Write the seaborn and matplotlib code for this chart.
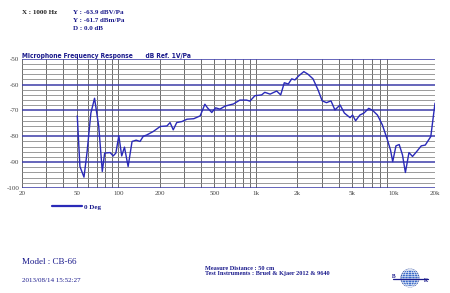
import numpy as np
import pandas as pd
import matplotlib
matplotlib.use("Agg")
import matplotlib.pyplot as plt
import seaborn as sns
from matplotlib.patches import Circle, Ellipse

freq = [50.4, 52.7, 56.4, 59.3, 63.3, 67.3, 72.2, 76.6, 79.7, 87.3, 91.9, 96.1, 101, 106, 111, 118,
        126, 135, 144, 152, 161, 179, 202, 226, 238, 251, 266, 290, 316, 354, 394, 426, 445, 478,
        510, 548, 599, 687, 765, 855, 905, 984, 1101, 1160, 1268, 1416, 1514, 1608, 1720, 1820,
        1920, 2050, 2230, 2390, 2600, 2830, 3030, 3260, 3510, 3750, 4090, 4390, 4830, 5040, 5300,
        5690, 6100, 6600, 7050, 7640, 8290, 8990, 9500, 9860, 10410, 10990, 11610, 12190, 12940,
        13730, 14670, 15900, 17000, 18640, 20000]
level = [-72.1, -91.7, -95.8, -86.4, -71.0, -65.3, -76.2, -93.6, -86.5, -86.3, -87.6, -86.5, -79.8,
         -87.6, -84.2, -91.7, -82.0, -81.5, -82.0, -80.0, -79.5, -78.2, -76.2, -76.0, -74.7, -77.5,
         -74.7, -74.3, -73.4, -73.2, -72.1, -67.6, -69.0, -70.8, -69.0, -69.5, -68.3, -67.5, -66.0,
         -66.0, -66.4, -64.3, -64.0, -63.0, -63.7, -62.5, -64.0, -59.3, -59.8, -57.8, -58.2, -56.6,
         -55.0, -56.0, -57.8, -62.1, -66.3, -67.0, -66.3, -69.8, -67.9, -71.0, -72.8, -71.8, -74.0,
         -71.8, -71.0, -69.2, -70.0, -71.8, -75.6, -81.1, -85.3, -89.8, -83.7, -83.2, -87.2, -94.0,
         -86.3, -87.8, -86.0, -83.7, -83.4, -80.1, -67.2]

xtick_vals = [20, 50, 100, 200, 500, 1000, 2000, 5000, 10000, 20000]
xtick_labels = ["20", "50", "100", "200", "500", "1k", "2k", "5k", "10k", "20k"]
ytick_vals = [-50, -60, -70, -80, -90, -100]

df = pd.DataFrame({"freq": freq, "level": level})

sns.set_theme(style="white")
plt.rcParams['font.family'] = ['Liberation Serif', 'DejaVu Serif']

BLUE = "#2a2ab8"
NAVY = "#1a1a8c"

fig = plt.figure(figsize=(4.5, 2.93), dpi=100)
ax = fig.add_axes([22/450, 1-188/293, (435-22)/450, (188-58.7)/293])

sns.lineplot(data=df, x="freq", y="level", ax=ax, color=BLUE, linewidth=1.0)
ax.set_xscale("log")
ax.set_xlim(20, 20000)
ax.set_ylim(-100, -50)

# grids
for d in [10, 100, 1000]:
    for m in range(1, 10):
        f = d * m
        if 20 <= f <= 20000:
            ax.axvline(f, color="#333333", lw=0.5, zorder=0)
ax.axvline(20000, color="#333333", lw=0.5, zorder=0)
for y in np.arange(-98, -50, 2):
    if y % 10 != 0:
        ax.axhline(y, color="#8a8a8a", lw=0.6, zorder=0)
for y in ytick_vals:
    ax.axhline(y, color="#3c3ca8", lw=1.1, zorder=0.5)

for s in ax.spines.values():
    s.set_visible(False)

ax.set_xticks(xtick_vals)
ax.set_xticklabels(xtick_labels)
ax.minorticks_off()
ax.set_yticks(ytick_vals)
ax.set_yticklabels([str(v) for v in ytick_vals])
ax.tick_params(axis="both", labelsize=5, colors="#444444", length=0, pad=2)
ax.set_xlabel("")
ax.set_ylabel("")

ax.text(0.0, 1.0, "Microphone Frequency Response      dB Ref. 1V/Pa", transform=ax.transAxes,
        fontsize=4.8, color=NAVY, fontweight="bold", family="DejaVu Sans", ha="left", va="bottom",
        fontstretch="condensed")

# header
fig.text(22/450, 1-13/293, "X : 1000 Hz", fontsize=5, fontweight="bold", color="#222222", va="center")
fig.text(73/450, 1-13/293, "Y : -63.9 dBV/Pa", fontsize=5, fontweight="bold", color=NAVY, va="center")
fig.text(73/450, 1-21/293, "Y : -61.7 dBm/Pa", fontsize=5, fontweight="bold", color=NAVY, va="center")
fig.text(73/450, 1-29/293, "D : 0.0 dB", fontsize=5, fontweight="bold", color=NAVY, va="center")

# legend
fig.add_artist(plt.Line2D([52/450, 82/450], [1-206/293, 1-206/293], color=BLUE, lw=1.6))
fig.text(84/450, 1-207/293, "0 Deg", fontsize=5, fontweight="bold", color=NAVY, va="center")

# footer
fig.text(22/450, 1-262/293, "Model : CB-66", fontsize=6.5, color=NAVY, va="center")
fig.text(22/450, 1-280/293, "2013/08/14 15:52:27", fontsize=5, color=NAVY, va="center")
fig.text(205/450, 1-268/293, "Measure Distance : 50 cm", fontsize=4.5, fontweight="bold", color=NAVY, va="center")
fig.text(205/450, 1-274/293, "Test Instruments : Bruel & Kjaer 2012 & 9640", fontsize=4.5, fontweight="bold", color=NAVY, va="center")

# logo
lax = fig.add_axes([388/450, 1-290/293, 44/450, 24/293])
lax.set_xlim(0, 44)
lax.set_ylim(0, 24)
lax.set_aspect("equal")
lax.axis("off")
lax.add_patch(Circle((22, 12), 9, facecolor="#3a6ac8", edgecolor="#2a4aa0", lw=0.6))
for yy in np.arange(4, 21, 2):
    lax.plot([13, 31], [yy, yy], color="white", lw=0.4)
for w in [4, 10, 16]:
    lax.add_patch(Ellipse((22, 12), w, 18, facecolor="none", edgecolor="white", lw=0.4))
lax.plot([5, 40], [11, 11], color=NAVY, lw=0.9)
lax.text(6, 13.5, "B", fontsize=4, fontweight="bold", color=NAVY, ha="center", va="center")
lax.text(38, 9, "K", fontsize=4, fontweight="bold", color=NAVY, ha="center", va="center")

fig.savefig("out.png", dpi=100, facecolor="white")
